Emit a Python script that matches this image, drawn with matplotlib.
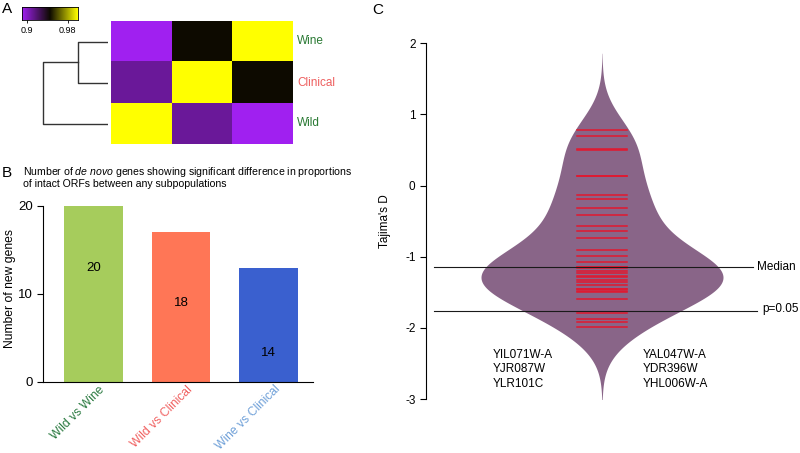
import numpy as np
import matplotlib
matplotlib.use("Agg")
import matplotlib.pyplot as plt
from matplotlib.colors import LinearSegmentedColormap

plt.rcParams['font.family'] = ['Liberation Sans', 'DejaVu Sans']
plt.rcParams['mathtext.fontset'] = 'custom'
plt.rcParams['mathtext.rm'] = 'Liberation Sans'
plt.rcParams['mathtext.it'] = 'Liberation Sans:italic'
plt.rcParams['axes.unicode_minus'] = False

# ---- data ----
# panel A: similarity matrix (rows top->bottom, columns left->right)
row_names = ['Wine', 'Clinical', 'Wild']
col_names = ['Wild', 'Clinical', 'Wine']
sim = [[0.89, 0.945, 1.0],
       [0.91, 1.0, 0.945],
       [1.0, 0.91, 0.89]]
# dendrogram merge heights: (Wine+Clinical), then +Wild
merge_heights = [0.055, 0.12]
cbar_ticks = [0.9, 0.98]

# panel B
comparisons = ['Wild vs Wine', 'Wild vs Clinical', 'Wine vs Clinical']
n_genes = [20, 17, 13]
bar_labels = ['20', '18', '14']
label_y = [13, 9, 3.3]

# panel C: Tajima's D of de novo genes
tajima_d = [0.78, 0.69, 0.51, 0.50, 0.14, 0.13, -0.13, -0.19, -0.31, -0.41,
            -0.57, -0.64, -0.73, -0.91, -0.99, -1.07, -1.14, -1.15, -1.16,
            -1.20, -1.23, -1.27, -1.28, -1.33, -1.35, -1.40, -1.45, -1.46,
            -1.48, -1.50, -1.59, -1.79, -1.88, -1.92, -1.99]
median_d = -1.14
p05_d = -1.77
genes_left = ['YIL071W-A', 'YJR087W', 'YLR101C']
genes_right = ['YAL047W-A', 'YDR396W', 'YHL006W-A']

W, H = 800, 453
fig = plt.figure(figsize=(W / 100, H / 100), dpi=100)


def ax_px(left, top, right, bottom):
    return fig.add_axes([left / W, 1 - bottom / H, (right - left) / W, (bottom - top) / H])


def fig_text(xp, yp, s, **kw):
    return fig.text(xp / W, 1 - yp / H, s, **kw)


# ---------------- panel A ----------------
fig_text(2, 9, 'A', fontsize=11, va='center', ha='left')

cmap = LinearSegmentedColormap.from_list('pby', ['#a020f0', '#0d0a00', '#ffff00'])
vmin, vmax = 0.89, 1.0

axh = ax_px(111, 21, 293, 144)
axh.imshow(np.array(sim), cmap=cmap, vmin=vmin, vmax=vmax, aspect='auto',
           extent=(0, 3, 3, 0))
axh.set_xlim(0, 3)
axh.set_ylim(3, 0)
axh.axis('off')
label_colors = {'Wine': '#2a7a34', 'Clinical': '#ee5f5f', 'Wild': '#2a7a34'}
for i, name in enumerate(row_names):
    axh.text(3.07, i + 0.5, name, color=label_colors[name], fontsize=8.5,
             va='center', ha='left')

# dendrogram
axd = ax_px(40, 21, 108, 144)
axd.set_xlim(merge_heights[1] * 68 / 65, 0)
axd.set_ylim(3, 0)
axd.axis('off')
yw, yc, yl = 0.5, 1.5, 2.5
h1, h2 = merge_heights
dk = dict(color='#333333', lw=1)
axd.plot([0, h1, h1, 0], [yw, yw, yc, yc], **dk)
ym = (yw + yc) / 2
axd.plot([h1, h2, h2, 0], [ym, ym, yl, yl], **dk)

# colorbar
axc = ax_px(22, 7, 78, 20)
grad = np.linspace(vmin, vmax, 200).reshape(1, -1)
axc.imshow(grad, cmap=cmap, vmin=vmin, vmax=vmax, aspect='auto',
           extent=(vmin, vmax, 0, 1))
axc.set_yticks([])
axc.set_xticks(cbar_ticks)
axc.set_xticklabels([str(t) for t in cbar_ticks])
axc.tick_params(axis='x', labelsize=6.5, length=2, pad=2, width=0.6)
for s in axc.spines.values():
    s.set_linewidth(0.6)

# ---------------- panel B ----------------
fig_text(2, 173, 'B', fontsize=11, va='center', ha='left')
fig_text(23, 172,
         r'Number of $\mathit{de\ novo}$ genes showing significant difference in proportions',
         fontsize=7.6, va='center', ha='left')
fig_text(23, 184, 'of intact ORFs between any subpopulations',
         fontsize=7.6, va='center', ha='left')

bar_colors = ['#a6cc5c', '#ff7656', '#3a60cf']
tick_colors = ['#2a7a40', '#f06060', '#6fa0d8']
axb = ax_px(43, 206, 313, 382)
x = np.arange(len(comparisons))
axb.bar(x, n_genes, width=0.674, color=bar_colors)
for xi, lab, ly in zip(x, bar_labels, label_y):
    axb.text(xi, ly, lab, ha='center', va='center', fontsize=9.5)
axb.set_xlim((43 - 93.5) / 87.5, (313 - 93.5) / 87.5)
axb.set_ylim(0, 20)
axb.spines['top'].set_visible(False)
axb.spines['right'].set_visible(False)
axb.spines['left'].set_bounds(0, 20)
axb.set_yticks([0, 10, 20])
axb.tick_params(axis='y', labelsize=9.5, length=4, width=0.8)
axb.set_xticks(x + 0.06)
axb.set_xticklabels(comparisons, rotation=45, ha='right', rotation_mode='anchor',
                    fontsize=8.7)
axb.tick_params(axis='x', length=0, pad=1)
for t, c in zip(axb.get_xticklabels(), tick_colors):
    t.set_color(c)
axb.set_ylabel('Number of new genes', fontsize=8.7)
axb.yaxis.set_label_coords(-27 / 270, 0.53)

# ---------------- panel C ----------------
fig_text(372, 10.5, 'C', fontsize=11, va='center', ha='left')

px_unit = 121.0
cx = 602.0
axv = ax_px(426, 43.3, 800, 399)
axv.set_xlim((426 - cx) / px_unit, (800 - cx) / px_unit)
axv.set_ylim(-3, 2)

# violin from a gaussian KDE of the values
d = np.array(tajima_d)
bw = 0.36
grid = np.linspace(d.min() - 3 * bw, d.max() + 3 * bw, 400)
dens = np.exp(-0.5 * ((grid[:, None] - d[None, :]) / bw) ** 2).sum(axis=1)
half = dens / dens.max()
axv.fill_betweenx(grid, -half, half, color='#896588', lw=0, clip_on=True)

for v in tajima_d:
    axv.plot([-25 / px_unit, 25 / px_unit], [v, v], color='#e3182f', lw=1.1)

axv.plot([(434 - cx) / px_unit, (753 - cx) / px_unit], [median_d, median_d],
         color='#1a1a1a', lw=0.8, clip_on=False)
axv.plot([(434 - cx) / px_unit, (757 - cx) / px_unit], [p05_d, p05_d],
         color='#1a1a1a', lw=0.8, clip_on=False)
axv.text((757 - cx) / px_unit, median_d, 'Median', fontsize=8.5, va='center', ha='left')
axv.text((762 - cx) / px_unit, p05_d + 0.03, 'p=0.05', fontsize=8.5, va='center', ha='left')

for names, xp in ((genes_left, 493), (genes_right, 643)):
    for k, name in enumerate(names):
        axv.text((xp - cx) / px_unit, -2.38 - k * 0.205, name, fontsize=8.5,
                 va='center', ha='left')

for s in ['top', 'right', 'bottom']:
    axv.spines[s].set_visible(False)
axv.spines['left'].set_bounds(-3, 2)
axv.set_xticks([])
axv.set_yticks([-3, -2, -1, 0, 1, 2])
axv.tick_params(axis='y', labelsize=8.5, length=4, width=0.8)
axv.set_ylabel("Tajima's D", fontsize=8.5, labelpad=10)

fig.savefig('out.png', dpi=100)
